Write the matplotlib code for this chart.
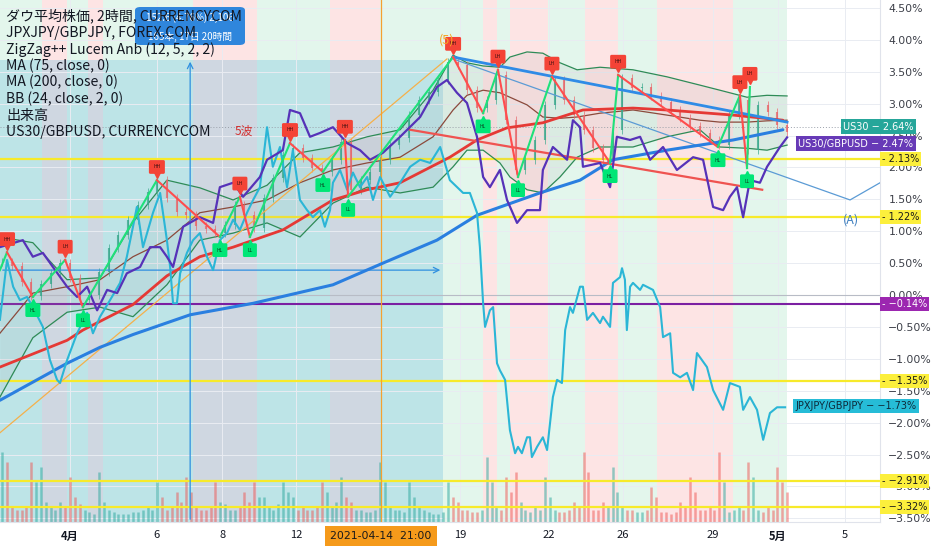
import matplotlib
matplotlib.use('Agg')
import matplotlib.pyplot as plt
from matplotlib.patches import Rectangle, FancyBboxPatch
from matplotlib.transforms import offset_copy
import numpy as np

plt.rcParams['font.family'] = ['Noto Sans CJK JP', 'DejaVu Sans']

# x = trading days counted from 1 Apr 2021, y = % change
tick_pos = [0, 2.69, 4.71, 7.0, 12.07, 14.83, 17.12, 19.91, 21.92, 23.99]
tick_lab = ['4月', '6', '8', '12', '19', '22', '26', '29', '5月', '5']

# session background stripes (g = up day, p = down day)
stripe_edges = [-2.17, -0.87, -0.09, 0.56, 1.02, 3.81, 5.79, 8.05, 9.60, 12.79,
                13.22, 13.62, 14.80, 15.94, 16.97, 18.17, 20.53, 22.20]
stripe_kind = ['g', 'p', 'g', 'p', 'g', 'p', 'g', 'p', 'g', 'p', 'g', 'p', 'g', 'p', 'g', 'p', 'g']

# US30 candles (closes, 0.3 day apart)
closes = [0.52, 0.45, 0.20, -0.02, 0.17, 0.34, 0.50, 0.27, -0.08, 0.00,
          0.36, 0.74, 0.94, 1.18, 1.41, 1.61, 1.80, 1.52, 1.30, 1.25,
          1.08, 1.03, 0.97, 1.10, 1.41, 1.25, 1.05, 1.52, 1.83, 2.19,
          2.30, 2.15, 1.99, 1.93, 2.12, 2.40, 1.65, 1.80, 1.93, 2.12,
          2.35, 2.46, 2.82, 3.06, 3.18, 3.37, 3.65, 3.61, 3.21, 2.93,
          3.06, 3.45, 2.74, 1.96, 2.12, 2.43, 2.98, 3.37, 3.06, 2.82,
          2.59, 2.30, 2.12, 2.59, 3.40, 3.24, 3.26, 3.12, 3.03, 2.90,
          2.77, 2.65, 2.54, 2.43, 2.35, 2.82, 3.06, 2.27, 2.98, 2.87,
          2.66, 2.55]
volume = [70, 15, 12, 60, 55, 15, 20, 45, 18, 10, 50, 12, 8, 8, 10, 15, 40, 12, 30, 45,
          15, 12, 40, 18, 12, 30, 40, 25, 12, 40, 25, 15, 12, 40, 15, 45, 20, 12, 10, 60,
          15, 12, 40, 15, 10, 8, 40, 20, 12, 10, 65, 15, 45, 50, 12, 15, 45, 12, 10, 20,
          70, 12, 20, 55, 15, 12, 10, 35, 10, 8, 20, 45, 12, 15, 70, 10, 15, 60, 12, 15,
          55, 30]
# bars in between (half a step later)
volume_mid = [60, 12, 15, 40, 20, 12, 15, 25, 12, 8, 20, 10, 8, 10, 12, 12, 25, 15, 20, 30,
              12, 15, 20, 12, 15, 20, 25, 15, 18, 30, 12, 12, 15, 30, 20, 25, 12, 10, 12, 40,
              12, 10, 25, 12, 8, 10, 25, 12, 10, 12, 40, 12, 30, 20, 10, 12, 25, 10, 12, 15,
              50, 12, 15, 30, 12, 10, 12, 25, 10, 10, 15, 30, 12, 12, 40, 12, 12, 45, 10, 12,
              40]

ma200 = [(-2.17, -1.65), (-0.09, -1.07), (0.93, -0.82), (1.95, -0.62), (3.72, -0.31),
         (5.67, -0.13), (8.14, 0.16), (9.69, 0.50), (11.36, 0.86), (12.60, 1.25),
         (14.55, 1.60), (15.79, 1.80), (16.81, 2.12), (18.48, 2.27), (20.53, 2.43), (22.07, 2.59)]
ma75 = [(-2.17, -1.13), (-0.09, -0.71), (0.40, -0.55), (1.95, -0.15), (3.00, 0.30),
        (4.02, 0.60), (5.05, 0.75), (6.59, 1.02), (8.14, 1.49), (9.20, 1.65), (10.22, 1.76),
        (11.76, 2.16), (12.60, 2.43), (13.53, 2.62), (14.64, 2.70), (15.88, 2.90),
        (17.43, 2.93), (18.48, 2.90), (20.53, 2.82), (22.07, 2.74)]

bb_x = [-2.17, -1.15, -0.09, 0.93, 1.95, 3.00, 4.02, 5.05, 6.10, 7.12, 8.14, 9.20, 10.22,
        11.24, 11.86, 12.29, 12.79, 13.31, 13.62, 14.15, 14.64, 15.17, 15.70, 16.41,
        17.43, 18.48, 19.50, 20.12, 20.96, 21.58, 22.20]
bb_up = [0.91, 0.82, 0.24, 0.27, 1.14, 1.80, 1.68, 1.49, 1.72, 2.23, 2.32, 2.48, 2.59,
         3.21, 3.76, 3.64, 3.59, 3.57, 3.73, 3.81, 3.79, 3.64, 3.53, 3.57, 3.53, 3.42,
         3.29, 3.21, 3.10, 3.13, 3.12]
bb_lo = [-1.60, -0.67, -0.27, -0.19, -0.34, 0.16, 0.86, 0.97, 1.13, 0.91, 1.44, 1.69, 1.60,
         1.69, 2.01, 2.27, 2.27, 2.07, 1.85, 1.65, 1.60, 1.85, 2.16, 2.32, 2.32, 2.48,
         2.59, 2.32, 2.30, 2.27, 2.35]
bb_mid = [-0.60, 0.03, 0.13, 0.24, 0.60, 0.86, 1.29, 1.38, 1.49, 1.76, 1.96, 2.07, 2.16,
          2.48, 2.90, 3.13, 3.21, 3.17, 3.10, 2.98, 2.79, 2.77, 2.79, 2.85, 2.90, 2.82,
          2.74, 2.71, 2.71, 2.73, 2.74]

us30_gbpusd = [(-2.17, 0.75), (-1.46, 0.86), (-1.15, 0.60), (-0.84, 0.66), (-0.53, 0.44),
               (-0.09, 0.13), (0.22, -0.03), (0.53, 0.13), (0.84, -0.24), (1.15, 0.08),
               (1.46, 0.03), (1.76, 0.34), (2.17, 0.44), (2.48, 0.75), (2.79, 0.75),
               (3.00, 0.60), (3.19, 0.44), (3.50, 1.07), (4.02, 1.22), (4.43, 1.13),
               (4.64, 1.69), (5.05, 1.76), (5.36, 1.54), (5.88, 1.85), (6.10, 2.12),
               (6.59, 2.27), (6.81, 2.90), (7.12, 2.85), (7.43, 2.48), (7.74, 2.54),
               (8.14, 2.63), (8.58, 2.38), (8.98, 2.27), (9.29, 2.12), (9.69, 2.23),
               (10.22, 2.48), (10.84, 2.79), (11.36, 3.26), (11.67, 3.37), (11.98, 3.17),
               (12.29, 3.01), (12.60, 2.48), (12.79, 1.85), (13.00, 1.69), (13.31, 1.96),
               (13.53, 1.49), (13.84, 1.13), (14.15, 1.33), (14.55, 1.33), (14.64, 1.96),
               (14.95, 2.32), (15.39, 2.12), (15.57, 2.74), (15.79, 2.63), (15.88, 2.01),
               (16.41, 2.07), (16.72, 1.69), (16.93, 2.48), (17.34, 2.43), (17.65, 2.48),
               (17.96, 2.12), (18.36, 2.32), (18.79, 1.96), (19.29, 2.16), (19.60, 2.12),
               (19.91, 1.38), (20.22, 1.33), (20.43, 1.54), (20.65, 1.69), (20.84, 1.22),
               (21.05, 1.80), (21.36, 1.76), (21.58, 2.01), (21.98, 2.32), (22.20, 2.47)]

jpx_gbpjpy = [(-2.17, -0.39), (-1.95, 0.55), (-1.76, 0.13), (-1.55, -0.08), (-1.33, -0.03),
              (-1.15, -0.19), (-0.84, -0.50), (-0.62, -1.02), (-0.40, -1.33), (-0.31, -1.38),
              (-0.09, -1.02), (0.22, -0.60), (0.53, -0.28), (0.71, -0.60), (0.93, -0.34),
              (1.24, -0.08), (1.55, 0.19), (1.76, 0.60), (1.95, 1.07), (2.07, 1.38),
              (2.26, 0.75), (2.57, 1.29), (2.79, 1.60), (3.00, 0.86), (3.10, 0.44),
              (3.19, -0.13), (3.31, -0.13), (3.41, 0.34), (3.62, 0.66), (3.81, 0.86),
              (4.02, 0.97), (4.24, 0.60), (4.43, 0.39), (4.64, 0.86), (4.86, 0.97),
              (5.05, 1.18), (5.26, 1.02), (5.48, 1.29), (5.67, 1.49), (5.88, 1.69),
              (6.10, 2.63), (6.28, 2.01), (6.50, 2.32), (6.72, 1.69), (6.90, 2.27),
              (7.12, 1.49), (7.34, 1.33), (7.52, 1.22), (7.74, 1.33), (7.89, 1.07),
              (8.05, 1.33), (8.14, 1.76), (8.36, 1.96), (8.58, 1.65), (8.76, 1.92),
              (8.98, 1.69), (9.20, 1.85), (9.38, 1.49), (9.60, 1.85), (9.91, 1.54),
              (10.22, 1.76), (10.53, 2.01), (10.84, 2.12), (11.15, 2.07), (11.46, 2.32),
              (11.76, 1.80), (12.17, 1.60), (12.38, 1.60), (12.60, 1.29), (12.69, 0.75),
              (12.79, -0.13), (12.85, -0.50), (13.00, -0.24), (13.10, -0.19), (13.22, -1.07),
              (13.31, -1.18), (13.47, -1.33), (13.62, -2.12), (13.78, -2.48), (13.87, -2.38),
              (13.99, -2.48), (14.15, -2.23), (14.24, -2.23), (14.30, -2.54), (14.46, -2.38),
              (14.64, -2.23), (14.77, -2.43), (14.95, -1.60), (15.08, -1.33), (15.23, -1.38),
              (15.33, -0.55), (15.48, -0.19), (15.57, -0.28), (15.79, 0.13), (15.88, 0.13),
              (16.01, -0.39), (16.19, -0.28), (16.41, -0.44), (16.50, -0.34), (16.72, -0.50),
              (16.81, 0.19), (17.03, 0.28), (17.09, 0.42), (17.18, 0.24), (17.24, -0.55),
              (17.34, 0.13), (17.43, 0.19), (17.65, 0.08), (17.74, 0.16), (18.05, 0.08),
              (18.27, -0.19), (18.36, -0.66), (18.58, -0.60), (18.67, -1.22), (18.89, -1.29),
              (19.10, -1.22), (19.29, -1.49), (19.41, -0.91), (19.72, -1.13), (19.91, -1.49),
              (20.22, -1.80), (20.43, -1.38), (20.74, -1.44), (20.84, -1.80), (21.05, -1.60),
              (21.27, -1.80), (21.46, -2.27), (21.67, -1.85), (21.89, -1.76), (22.14, -1.76)]

# zigzag pivots
zz = [(-2.17, 0.39, ''), (-1.95, 0.67, 'HH'), (-1.15, -0.03, 'HL'), (-0.15, 0.55, 'LH'),
      (0.40, -0.19, 'LL'), (2.69, 1.80, 'HH'), (4.64, 0.91, 'HL'), (5.26, 1.54, 'LH'),
      (5.57, 0.91, 'LL'), (6.81, 2.38, 'HH'), (7.83, 1.93, 'HL'), (8.51, 2.43, 'HH'),
      (8.61, 1.54, 'LL'), (11.86, 3.73, 'HH'), (12.79, 2.85, 'HL'), (13.25, 3.53, 'LH'),
      (13.87, 1.85, 'LL'), (14.92, 3.42, 'LH'), (16.72, 2.07, 'HL'), (16.97, 3.45, 'HH'),
      (20.06, 2.32, 'HL'), (20.74, 3.13, 'LH'), (20.96, 1.99, 'LL'), (21.05, 3.26, 'LH')]

hlines_yellow = [2.13, 1.22, -1.35, -2.91, -3.32]
hline_purple = -0.14
last_us30 = 2.64
last_pair = 2.47
last_jpx = -1.73

XMIN, XMAX = -2.167, 25.077
YMIN, YMAX = -3.558, 4.624

fig = plt.figure(figsize=(9.32, 5.5), dpi=100)
ax = fig.add_axes([0, 28 / 550, 880 / 932, 522 / 550])
ax.set_xlim(XMIN, XMAX)
ax.set_ylim(YMIN, YMAX)

stripe_col = {'g': '#e3f6ec', 'p': '#fde4e4'}
for i in range(len(stripe_kind)):
    ax.axvspan(stripe_edges[i], stripe_edges[i + 1], color=stripe_col[stripe_kind[i]], lw=0, zorder=0)

# date range tool box
ax.add_patch(Rectangle((XMIN, YMIN), 11.55 - XMIN, 3.68 - YMIN, fc='#5bb8dc', alpha=0.28, lw=0, zorder=0.3))

ax.set_axisbelow(True)
ax.grid(True, color='#e9ecf2', lw=0.7)

# volume
bar_t = -2.1 + 0.3 * np.arange(len(closes))
opens = [closes[0]] + closes[:-1]
up = [c >= o for o, c in zip(opens, closes)]
vcol = ['#26a69a' if u else '#ef5350' for u in up]
ax.vlines(bar_t, 0, np.array(volume) / 522, colors=vcol, lw=1.8, alpha=0.5,
          transform=ax.get_xaxis_transform(), zorder=1)
ax.vlines(bar_t[:len(volume_mid)] + 0.15, 0, np.array(volume_mid) / 522, colors=vcol[1:len(volume_mid) + 1],
          lw=1.8, alpha=0.5, transform=ax.get_xaxis_transform(), zorder=1)

# horizontal levels
for v in hlines_yellow:
    ax.axhline(v, color='#f7ea2a', lw=1.6, zorder=2)
ax.axhline(hline_purple, color='#7b1fa2', lw=1.5, zorder=2)
ax.axhline(0, color='#b8bcc6', lw=0.8, zorder=1.5)
ax.axhline(last_us30, color='#9aa0aa', lw=0.7, ls=(0, (1, 2)), zorder=1.5)

# bollinger
ax.fill_between(bb_x, bb_lo, bb_up, color='#a0a0a0', alpha=0.12, lw=0, zorder=2)
ax.plot(bb_x, bb_up, color='#2e8b57', lw=0.9, zorder=2.5)
ax.plot(bb_x, bb_lo, color='#2e8b57', lw=0.9, zorder=2.5)
ax.plot(bb_x, bb_mid, color='#8b4a3c', lw=0.9, zorder=2.5)

# candles
ccol = ['#3aa88c' if u else '#e8666a' for u in up]
lo = np.minimum(opens, closes)
hi = np.maximum(opens, closes)
ax.vlines(bar_t, lo - 0.06, hi + 0.06, colors=ccol, lw=0.6, alpha=0.8, zorder=3)
ax.vlines(bar_t, lo, hi, colors=ccol, lw=1.5, alpha=0.8, zorder=3)

# guide lines
ax.plot([-2.17, 11.67], [-2.16, 3.70], color='#f5b04a', lw=0.9, zorder=3)
ax.plot([11.86, 24.15, 25.08], [3.70, 1.49, 1.76], color='#5b9bd5', lw=0.9, zorder=3)
ax.axvline(9.63, color='#f5a030', lw=0.9, zorder=3)
ax.annotate('', xy=(3.72, 3.70), xytext=(3.72, YMIN),
            arrowprops=dict(arrowstyle='->', color='#2f8fe0', lw=0.9), zorder=3)
ax.annotate('', xy=(11.55, 0.39), xytext=(XMIN, 0.39),
            arrowprops=dict(arrowstyle='->', color='#2f8fe0', lw=0.9), zorder=3)

# moving averages
m = np.array(ma200)
ax.plot(m[:, 0], m[:, 1], color='#2a7fe0', lw=2.2, zorder=4, solid_capstyle='round')
m = np.array(ma75)
ax.plot(m[:, 0], m[:, 1], color='#e53935', lw=2.0, zorder=4, solid_capstyle='round')

# trend lines
ax.plot([11.86, 22.20], [3.73, 2.71], color='#2f8be6', lw=2.0, zorder=4)
ax.plot([10.53, 21.43], [2.59, 1.65], color='#ef5350', lw=1.6, zorder=4)

# compare series
s = np.array(jpx_gbpjpy)
ax.plot(s[:, 0], s[:, 1], color='#2bb6d6', lw=1.5, zorder=4.2)
s = np.array(us30_gbpusd)
ax.plot(s[:, 0], s[:, 1], color='#5632b8', lw=1.6, zorder=4.3)

# zigzag
for a, b in zip(zz[:-1], zz[1:]):
    c = '#1fe07a' if b[1] > a[1] else '#ff4d4d'
    ax.plot([a[0], b[0]], [a[1], b[1]], color=c, lw=1.5, zorder=5)
for x, y, tag in zz:
    if not tag:
        continue
    high = tag[1] == 'H'
    fc = '#f44336' if high else '#00e676'
    sgn = 1 if high else -1
    ax.plot(x, y, marker='v' if high else '^', ms=5, color=fc, lw=0, zorder=6,
            transform=offset_copy(ax.transData, fig=fig, x=0, y=sgn * 4.0, units='points'))
    ax.annotate(tag, (x, y), xytext=(0, sgn * 9.5), textcoords='offset points',
                ha='center', va='center', fontsize=3.5, color='#3a1010' if high else '#0b3d1e',
                bbox=dict(boxstyle='round,pad=0.9,rounding_size=0.3', fc=fc, ec='none'), zorder=6)

# chart text
ax.text(5.39, 2.57, '5波', color='#d32f2f', fontsize=8.5, ha='center', va='center', zorder=6)
ax.text(11.67, 4.0, '(5)', color='#f5a623', fontsize=9, ha='center', va='center', zorder=6)
ax.text(24.18, 1.18, '(A)', color='#3f7fbf', fontsize=9, ha='center', va='center', zorder=6)

# axes styling
for sp in ['top', 'left']:
    ax.spines[sp].set_visible(False)
ax.spines['right'].set_color('#e0e3eb')
ax.spines['bottom'].set_color('#e0e3eb')
ax.yaxis.tick_right()
yt = np.arange(-3.5, 4.51, 0.5)
ax.set_yticks(yt, [f'{v:.2f}%'.replace('-', '\u2212') for v in yt])
ax.set_xticks(tick_pos, tick_lab)
ax.tick_params(axis='y', length=0, pad=6, labelsize=7.8, labelcolor='#3c3f48')
ax.tick_params(axis='x', length=0, pad=6, labelsize=8, labelcolor='#131722')
for t in ax.get_yticklabels():
    t.set_fontfamily('DejaVu Sans')
for t in ax.get_xticklabels():
    if '月' in t.get_text():
        t.set_fontweight('bold')

# right-hand price labels
ytr = ax.get_yaxis_transform()
lab_kw = dict(transform=ytr, va='center', fontsize=7.0, family='DejaVu Sans', clip_on=False, zorder=10)
for v in hlines_yellow:
    ax.text(1.002, v, '- ' + f'{v:.2f}%'.replace('-', '\u2212'), ha='left', color='#1a1a1a',
            bbox=dict(boxstyle='square,pad=0.2', fc='#fcef3c', ec='none'), **lab_kw)
ax.text(1.002, hline_purple, '- \u22120.14%', ha='left', color='white',
        bbox=dict(boxstyle='square,pad=0.2', fc='#9c27b0', ec='none'), **lab_kw)
ax.text(1.038, last_us30, f'US30 \u2212 {last_us30:.2f}%', ha='right', color='white',
        bbox=dict(boxstyle='square,pad=0.25', fc='#26a69a', ec='none'), **lab_kw)
ax.text(1.038, 2.37, f'US30/GBPUSD \u2212 {last_pair:.2f}%', ha='right', color='white',
        bbox=dict(boxstyle='square,pad=0.25', fc='#673ab7', ec='none'), **lab_kw)
ax.text(1.042, -1.74, 'JPXJPY/GBPJPY \u2212 ' + f'{last_jpx:.2f}%'.replace('-', '\u2212'), ha='right',
        color='#0e2a3a', bbox=dict(boxstyle='square,pad=0.25', fc='#26bcd7', ec='none'), **lab_kw)

# crosshair date label
fig.text(381 / 932, 1 - 536 / 550, '2021-04-14  21:00', ha='center', va='center', fontsize=7.8,
         color='#1a1a1a', family='DejaVu Sans',
         bbox=dict(boxstyle='square,pad=0.45', fc='#f59a1b', ec='none'))

# measure tooltip
fig.add_artist(FancyBboxPatch((135 / 932, 1 - 45 / 550), 110 / 932, 38 / 550,
                              boxstyle='round,pad=0,rounding_size=0.006', transform=fig.transFigure,
                              fc='#2f86dc', ec='none', zorder=1))
fig.text(190 / 932, 1 - 18 / 550, '152.6 (4.76%) 2,106', ha='center', va='center', fontsize=7,
         color='white', zorder=2)
fig.text(190 / 932, 1 - 37 / 550, '165本, 17日 20時間', ha='center', va='center', fontsize=7,
         color='white', zorder=2)

legend = ['ダウ平均株価, 2時間, CURRENCYCOM', 'JPXJPY/GBPJPY, FOREX.COM',
          'ZigZag++ Lucem Anb (12, 5, 2, 2)', 'MA (75, close, 0)', 'MA (200, close, 0)',
          'BB (24, close, 2, 0)', '出来高', 'US30/GBPUSD, CURRENCYCOM']
for i, s in enumerate(legend):
    fig.text(6 / 932, 1 - (16 + 16.6 * i) / 550, s, ha='left', va='center', fontsize=10.1,
             color='#131722', zorder=3)

fig.savefig('out.png', dpi=100)
